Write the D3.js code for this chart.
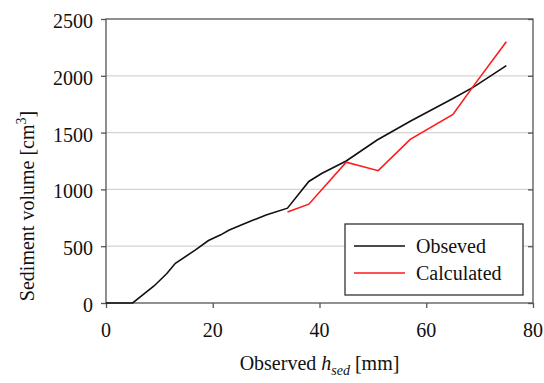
<!DOCTYPE html>
<html>
<head>
<meta charset="utf-8">
<script src="https://cdn.jsdelivr.net/npm/d3@7"></script>
<style>
  body { margin: 0; background: #fff; }
  .chart { position: relative; width: 544px; height: 383px; }
  .chart svg { position: absolute; left: 0; top: 0; }
  .lbl { position: absolute; font-size: 20px; line-height: 20px; color: #111; white-space: nowrap; }
</style>
</head>
<body>
<div class="chart"></div>
<script>
// observed curve
const obsX = [0, 5, 9, 11.4, 13, 16.7, 19.2, 21.5, 23, 25, 27.6, 30, 34, 38, 40.4, 45, 50.8, 57, 65, 69, 75];
const obsY = [0, 0, 150, 260, 350, 465, 550, 600, 640, 680, 730, 775, 835, 1070, 1140, 1250, 1435, 1600, 1800, 1905, 2090];
// calculated curve
const calcX = [34, 38, 45, 51, 57, 65, 69, 75];
const calcY = [800, 870, 1240, 1165, 1440, 1660, 1920, 2300];

const xTicks = [0, 20, 40, 60, 80];
const yTicks = [0, 500, 1000, 1500, 2000, 2500];
const seriesNames = ["Obseved", "Calculated"];

const FONT = "'Liberation Serif'";
const margin = {top: 19, right: 11, bottom: 80, left: 106};
const W = 544, H = 383;
const w = W - margin.left - margin.right,
      h = H - margin.top - margin.bottom;

const chart = d3.select(".chart");
const svg = chart.append("svg")
    .attr("width", W).attr("height", H)
  .append("g")
    .attr("transform", `translate(${margin.left},${margin.top})`);

const x = d3.scaleLinear().domain([0, 80]).range([0, w]);
const y = d3.scaleLinear().domain([0, 2500]).range([h, 0]);

// html labels (serif font), positioned in page coords
function label(px, py, html, tf) {
  const el = chart.append("div").attr("class", "lbl")
    .style("left", px + "px").style("top", py + "px")
    .style("transform", tf).html(html);
  el.node().style.setProperty("font-family", FONT, "important");
  el.selectAll("*").each(function() { this.style.setProperty("font-family", FONT, "important"); });
  return el;
}

// grid lines
svg.append("g").selectAll("line")
  .data(yTicks.slice(1, -1))
  .enter().append("line")
    .attr("x1", 0).attr("x2", w)
    .attr("y1", d => y(d)).attr("y2", d => y(d))
    .attr("stroke", "#d4d4d4").attr("stroke-width", 1.2);

// frame
svg.append("rect")
  .attr("width", w).attr("height", h)
  .attr("fill", "none").attr("stroke", "#555").attr("stroke-width", 1.3);

svg.append("g")
  .attr("transform", `translate(0,${h})`)
  .call(d3.axisBottom(x).tickValues(xTicks).tickSize(5).tickFormat(""));
svg.append("g")
  .call(d3.axisLeft(y).tickValues(yTicks).tickSize(5).tickFormat(""));
// right-side inward ticks
svg.append("g")
  .attr("transform", `translate(${w},0)`)
  .call(d3.axisLeft(y).tickValues(yTicks).tickSize(5).tickFormat(""));

svg.selectAll(".domain").remove();
svg.selectAll(".tick line").attr("stroke", "#555").attr("stroke-width", 1.3);

// tick labels
xTicks.forEach(t => label(margin.left + x(t), margin.top + h + 27, t, "translate(-50%,-50%)"));
yTicks.forEach(t => label(margin.left - 13, margin.top + y(t) + 2, t, "translate(-100%,-50%)"));

const line = d3.line().x(d => x(d[0])).y(d => y(d[1]));

svg.append("path")
  .datum(d3.zip(obsX, obsY))
  .attr("d", line)
  .attr("fill", "none").attr("stroke", "#111").attr("stroke-width", 1.6);

svg.append("path")
  .datum(d3.zip(calcX, calcY))
  .attr("d", line)
  .attr("fill", "none").attr("stroke", "#ff1a1a").attr("stroke-width", 1.6);

// legend
const lx = 345, ly = 224;
svg.append("rect")
  .attr("x", lx - margin.left).attr("y", ly - margin.top)
  .attr("width", 178).attr("height", 71)
  .attr("fill", "#fff").attr("stroke", "#333").attr("stroke-width", 1.3);
const colors = ["#111", "#ff1a1a"];
seriesNames.forEach((name, i) => {
  const yy = ly + 22 + i * 27;
  svg.append("line")
    .attr("x1", lx + 9 - margin.left).attr("x2", lx + 60 - margin.left)
    .attr("y1", yy - margin.top).attr("y2", yy - margin.top)
    .attr("stroke", colors[i]).attr("stroke-width", 1.6);
  label(lx + 71, yy, name, "translate(0,-50%)");
});

// axis titles
label(margin.left + w / 2, 367,
  'Observed <i>h</i><sub style="font-size:14px;font-style:italic;vertical-align:-5px">sed</sub> [mm]',
  "translate(-50%,-50%)");
label(24, 206,
  'Sediment volume [cm<sup style="font-size:14px;vertical-align:8px">3</sup>]',
  "translate(-50%,-50%) rotate(-90deg)");
</script>
</body>
</html>
